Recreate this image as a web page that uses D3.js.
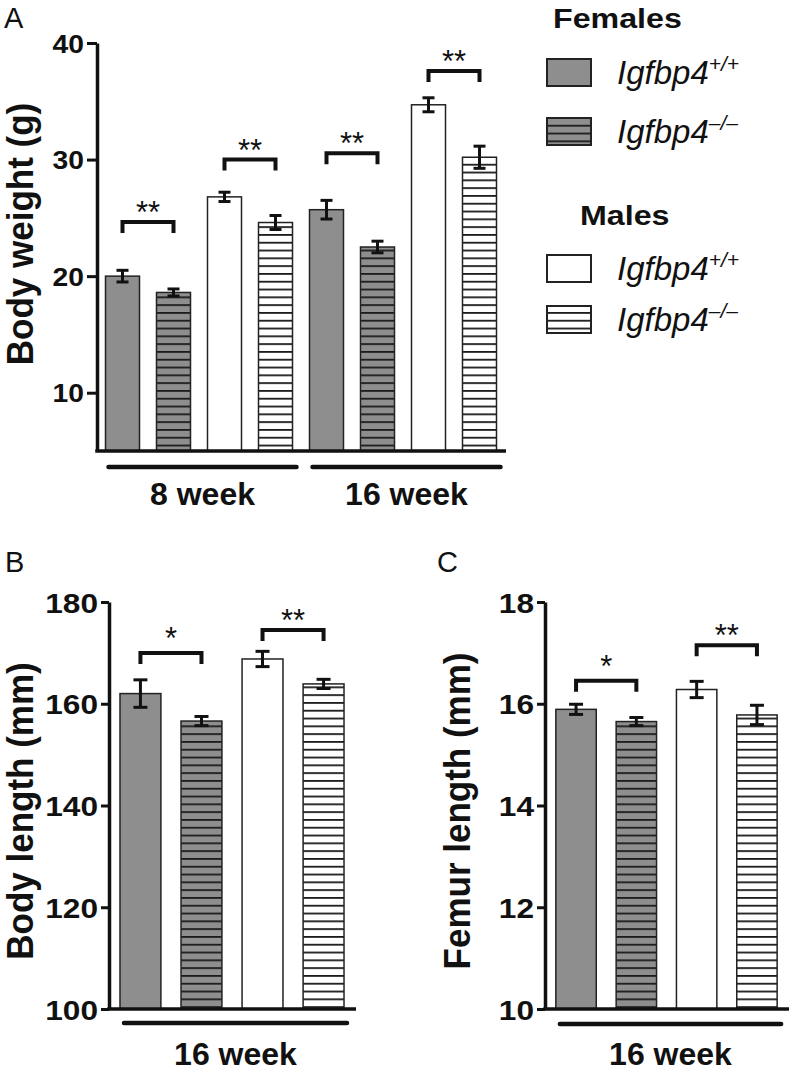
<!DOCTYPE html>
<html><head><meta charset="utf-8">
<script src="https://cdn.jsdelivr.net/npm/d3@7"></script>
<style>body{margin:0;background:#fff}svg{display:block}</style>
</head><body>
<svg id="c" width="793" height="1071"></svg>
<script>
// ---------------- DATA ----------------
const seriesKeys = ["F+/+", "F-/-", "M+/+", "M-/-"];
const weekGroupsA = ["8 week", "16 week"];
const weekGroupBC = ["16 week"];
const weightCats = ["8w F+/+", "8w F-/-", "8w M+/+", "8w M-/-", "16w F+/+", "16w F-/-", "16w M+/+", "16w M-/-"];
const weightMean = [20.0, 18.6, 26.8, 24.6, 25.7, 22.5, 34.7, 30.2];
const weightSEM  = [0.5, 0.3, 0.4, 0.6, 0.8, 0.5, 0.6, 0.95];
const weightTicks = [10, 20, 30, 40];
const weightBrackets = [[0, 1, 24.65, "**"], [2, 3, 30.0, "**"], [4, 5, 30.55, "**"], [6, 7, 37.6, "**"]];

const lengthCats = ["F+/+", "F-/-", "M+/+", "M-/-"];
const bodyLengthMean = [162.0, 156.6, 168.8, 163.9];
const bodyLengthSEM  = [2.7, 0.9, 1.5, 0.9];
const bodyLengthTicks = [100, 120, 140, 160, 180];
const bodyLengthBrackets = [[0, 1, 170.0, "*"], [2, 3, 174.5, "**"]];

const femurMean = [15.89, 15.65, 16.28, 15.78];
const femurSEM  = [0.10, 0.08, 0.16, 0.19];
const femurTicks = [10, 12, 14, 16, 18];
const femurBrackets = [[0, 1, 16.45, "*"], [2, 3, 17.15, "**"]];

const legendFemales = "Females";
const legendMales = "Males";
const geneName = "Igfbp4";
const genotypes = ["+/+", "\u2013/\u2013"];

// ---------------- SETUP ----------------
const svg = d3.select("#c");
const FONT = "Liberation Sans";
const GRAY = "#8e8e8e";
const INK = "#111";
const defs = svg.append("defs");
function hatch(id, bg) {
  const p = defs.append("pattern").attr("id", id).attr("patternUnits", "userSpaceOnUse")
    .attr("width", 10).attr("height", 7.8);
  p.append("rect").attr("width", 10).attr("height", 7.8).attr("fill", bg);
  p.append("rect").attr("y", 0).attr("width", 10).attr("height", 1.8).attr("fill", "#1c1c1c");
}
hatch("hG", GRAY);
hatch("hW", "#fff");
const fills = [GRAY, "url(#hG)", "#fff", "url(#hW)"];

function panel(o) {
  const g = svg.append("g");
  const x = d3.scaleBand().domain(o.cats).range(o.xr).paddingInner(o.pi).paddingOuter(o.po);
  const y = d3.scaleLinear().domain(o.yd).range(o.yr);
  // bars
  g.selectAll("rect.bar").data(o.means).join("rect").attr("class", "bar")
    .attr("x", (d, i) => x(o.cats[i])).attr("width", x.bandwidth())
    .attr("y", d => y(d)).attr("height", d => y(o.yd[0]) - y(d))
    .attr("fill", (d, i) => fills[i % 4]).attr("stroke", "#222").attr("stroke-width", 1.5);
  // error bars
  const eb = g.selectAll("g.eb").data(o.means).join("g").attr("class", "eb")
    .attr("stroke", INK).attr("stroke-width", 3);
  const cx = i => x(o.cats[i]) + x.bandwidth() / 2;
  eb.append("line").attr("x1", (d, i) => cx(i)).attr("x2", (d, i) => cx(i))
    .attr("y1", (d, i) => y(d - o.sem[i])).attr("y2", (d, i) => y(d + o.sem[i]));
  eb.append("line").attr("x1", (d, i) => cx(i) - o.cap).attr("x2", (d, i) => cx(i) + o.cap)
    .attr("y1", (d, i) => y(d + o.sem[i])).attr("y2", (d, i) => y(d + o.sem[i]));
  eb.append("line").attr("x1", (d, i) => cx(i) - o.cap).attr("x2", (d, i) => cx(i) + o.cap)
    .attr("y1", (d, i) => y(d - o.sem[i])).attr("y2", (d, i) => y(d - o.sem[i]));
  // y axis
  const ax = g.append("g").attr("transform", `translate(${o.xr[0]},0)`)
    .call(d3.axisLeft(y).tickValues(o.ticks).tickSizeInner(o.tick).tickSizeOuter(0).tickPadding(4));
  ax.select(".domain").attr("stroke", INK).attr("stroke-width", 3.5);
  ax.selectAll(".tick line").attr("stroke", INK).attr("stroke-width", 3);
  ax.selectAll(".tick text").attr("x", 0).attr("dy", "0.36em")
    .attr("transform", `translate(${-(o.tick + 3)},0) scale(1.13,1)`)
    .attr("font-family", FONT).attr("font-weight", "bold").attr("font-size", o.tfs).attr("fill", INK);
  // x axis line
  g.append("line").attr("x1", o.xr[0] - 1.75).attr("x2", o.xAxisEnd)
    .attr("y1", y(o.yd[0])).attr("y2", y(o.yd[0])).attr("stroke", INK).attr("stroke-width", 3.5);
  // y title
  g.append("text").attr("transform", `translate(${o.titleX},${o.titleY}) scale(1.05,1) rotate(-90)`)
    .attr("text-anchor", "middle").attr("font-family", FONT).attr("font-weight", "bold")
    .attr("font-size", 35).attr("fill", INK).text(o.title);
  // brackets
  o.brackets.forEach(([a, b, v, s]) => {
    const by = y(v), x1 = cx(a), x2 = cx(b);
    g.append("path").attr("d", `M${x1},${by + 11}V${by}H${x2}V${by + 11}`)
      .attr("fill", "none").attr("stroke", INK).attr("stroke-width", 4).attr("stroke-linejoin", "miter");
    const off = s === "*" ? -21 : -16;
    g.append("text").attr("x", (x1 + x2) / 2).attr("y", by + off + 17)
      .attr("text-anchor", "middle").attr("font-family", FONT).attr("font-size", 31)
      .attr("fill", INK).text(s);
  });
  // group underlines + labels
  o.groups.forEach((gname, k) => {
    const [ga, gb] = o.groupSpan[k];
    const x1 = x(o.cats[ga]) + o.ulPad[0], x2 = x(o.cats[gb]) + x.bandwidth() + o.ulPad[1];
    g.append("line").attr("x1", x1).attr("x2", x2).attr("y1", o.ulY).attr("y2", o.ulY)
      .attr("stroke", INK).attr("stroke-width", 4.5).attr("stroke-linecap", "round");
    g.append("text").attr("x", (x1 + x2) / 2).attr("y", o.glY).attr("text-anchor", "middle")
      .attr("font-family", FONT).attr("font-weight", "bold").attr("font-size", 32)
      .attr("fill", INK).text(gname);
  });
  // panel letter
  svg.append("text").attr("x", o.letter[1]).attr("y", o.letter[2]).attr("font-family", FONT)
    .attr("font-size", 29).attr("fill", INK).text(o.letter[0]);
}

panel({
  cats: weightCats, means: weightMean, sem: weightSEM, ticks: weightTicks,
  xr: [97, 505], pi: 1 / 3, po: 1 / 6, yd: [5, 40], yr: [451, 43], xAxisEnd: 506,
  tick: 10, tfs: 25, cap: 6, title: "Body weight (g)", titleX: 33, titleY: 234,
  brackets: weightBrackets, groups: weekGroupsA, groupSpan: [[0, 3], [4, 7]],
  ulPad: [3, 4], ulY: 467, glY: 505, letter: ["A", 4, 28]
});
panel({
  cats: lengthCats, means: bodyLengthMean, sem: bodyLengthSEM, ticks: bodyLengthTicks,
  xr: [109, 355], pi: 0.33, po: 0.18, yd: [100, 180], yr: [1009, 602], xAxisEnd: 356,
  tick: 8, tfs: 28, cap: 7, title: "Body length (mm)", titleX: 33, titleY: 811,
  brackets: bodyLengthBrackets, groups: weekGroupBC, groupSpan: [[0, 3]],
  ulPad: [4, 3], ulY: 1023, glY: 1065, letter: ["B", 5, 572]
});
panel({
  cats: lengthCats, means: femurMean, sem: femurSEM, ticks: femurTicks,
  xr: [545, 788], pi: 0.33, po: 0.18, yd: [10, 18], yr: [1009, 602], xAxisEnd: 789,
  tick: 8, tfs: 28, cap: 7, title: "Femur length (mm)", titleX: 470, titleY: 811,
  brackets: femurBrackets, groups: weekGroupBC, groupSpan: [[0, 3]],
  ulPad: [4, 4], ulY: 1024, glY: 1065, letter: ["C", 437, 572]
});

// ---------------- LEGEND ----------------
const lg = svg.append("g");
const legendRows = [
  { head: legendFemales, hx: 553, hy: 28 },
  { head: legendMales, hx: 580, hy: 225 }
];
legendRows.forEach(r => lg.append("text").attr("x", 0).attr("y", 0)
  .attr("transform", `translate(${r.hx},${r.hy}) scale(1.15,1)`)
  .attr("font-family", FONT).attr("font-weight", "bold").attr("font-size", 28).attr("fill", INK).text(r.head));
const swTops = [59, 118, 255, 306];
seriesKeys.forEach((k, i) => {
  lg.append("rect").attr("x", 547).attr("y", swTops[i]).attr("width", 44).attr("height", 27)
    .attr("fill", fills[i]).attr("stroke", "#222").attr("stroke-width", 2);
  const t = lg.append("text").attr("x", 617).attr("y", swTops[i] + 25)
    .attr("font-family", FONT).attr("font-style", "italic").attr("font-size", 33).attr("fill", INK);
  t.append("tspan").text(geneName);
  t.append("tspan").attr("dy", -13).attr("font-size", 21).text(genotypes[i % 2]);
});
</script>
</body></html>
